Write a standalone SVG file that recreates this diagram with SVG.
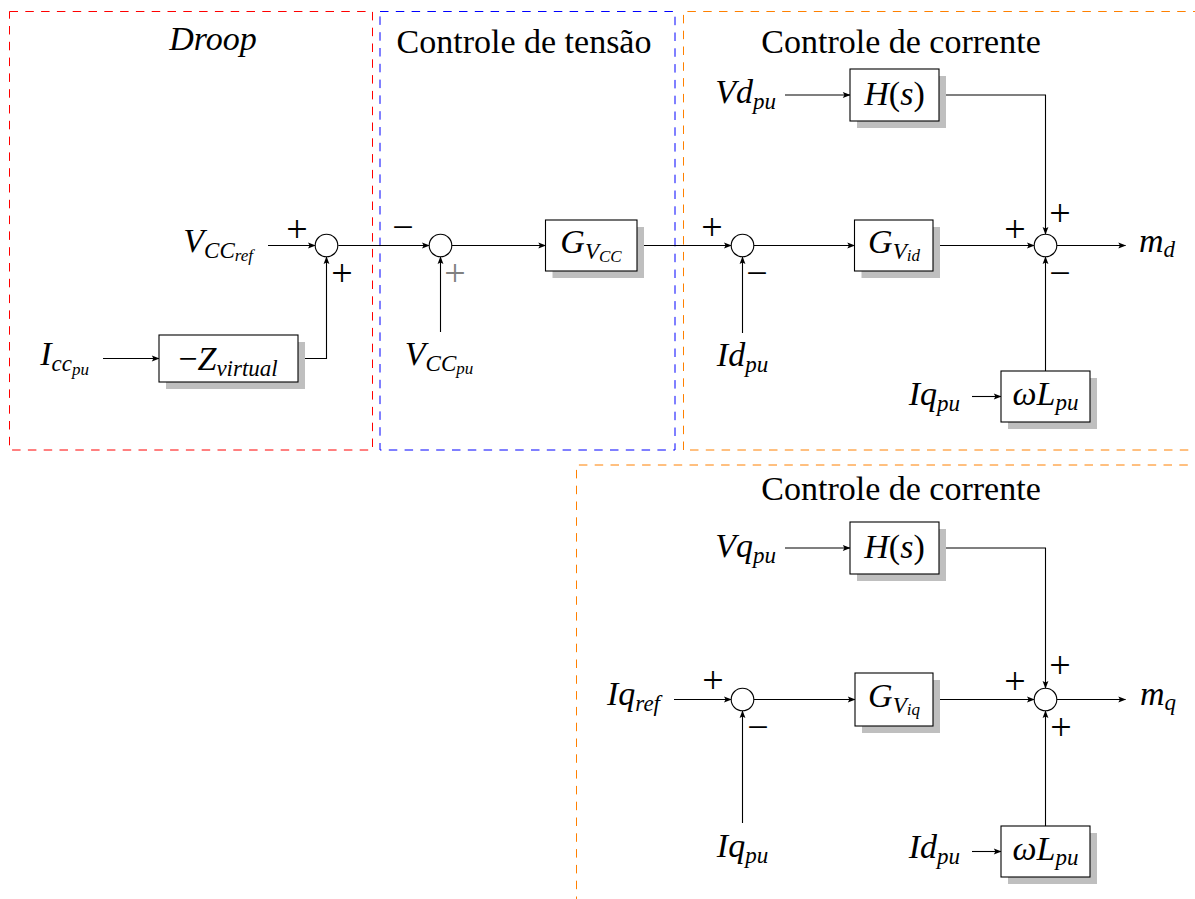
<svg xmlns="http://www.w3.org/2000/svg" width="1195" height="899" viewBox="0 0 1195 899">
  <style>
    .bg { fill: #ffffff; }
    .frame { fill: none; stroke-width: 1; stroke-dasharray: 8.5 7.3; }
    .red { stroke: #ff0000; }
    .blue { stroke: #0000ff; }
    .orange { stroke: #ff8000; }
    .wire { fill: none; stroke: #000; stroke-width: 1.1; }
    .arrow { marker-end: url(#tip); }
    .box { fill: #fff; stroke: #000; stroke-width: 1.1; }
    .shadow { fill: #bfbfbf; stroke: none; }
    .sum { fill: #fff; stroke: #000; stroke-width: 1.1; }
    text { fill: #000; }
    .title { font-size: 34px; }
    .m { font-style: italic; font-size: 34px; }
    .up { font-style: normal; }
    .s1 { font-size: 23px; }
    .s2 { font-size: 17px; }
    .sign { font-size: 38px; text-anchor: middle; }
    .mid { text-anchor: middle; }
    .end { text-anchor: end; }
  </style>
  <defs>
    <marker id="tip" markerUnits="userSpaceOnUse" viewBox="-9 -4 10 8" markerWidth="10" markerHeight="8" refX="0" refY="0" orient="auto">
      <path d="M0.6,0 L-7.2,-2.9 L-5.6,0 L-7.2,2.9 Z" fill="#000"/>
    </marker>
  </defs>

  <rect class="bg" x="0" y="0" width="1195" height="899"/>

  <!-- dashed section frames -->
  <g id="frames">
    <rect class="frame red" x="9.5" y="11.5" width="363" height="438.5"/>
    <rect class="frame blue" x="380" y="11.5" width="295" height="438.5"/>
    <path class="frame orange" d="M683.5,450 V11.5 H1200 M690,450 H1200"/>
    <path class="frame orange" d="M576.5,905 V465 H1200"/>
  </g>

  <g font-family="Liberation Serif, DejaVu Serif, serif">
  <!-- section titles -->
  <g id="titles">
    <text class="m mid" x="213" y="50">Droop</text>
    <text class="title mid" x="524" y="53">Controle de tensão</text>
    <text class="title mid" x="901" y="53">Controle de corrente</text>
    <text class="title mid" x="901" y="500">Controle de corrente</text>
  </g>

  <!-- connectors -->
  <g id="connectors">
    <!-- droop -->
    <path class="wire arrow" d="M268,245.5 H315.2"/>
    <path class="wire arrow" d="M103,358.5 H159"/>
    <path class="wire arrow" d="M298,358.5 H326.5 V256.8"/>
    <path class="wire arrow" d="M338.3,245.5 H429.2"/>
    <!-- voltage loop -->
    <path class="wire arrow" d="M440.5,332 V256.8"/>
    <path class="wire arrow" d="M451.8,245.5 H545.5"/>
    <path class="wire arrow" d="M637,245.5 H731.2"/>
    <!-- d-axis current loop -->
    <path class="wire arrow" d="M742.5,333 V256.8"/>
    <path class="wire arrow" d="M753.8,245.5 H854.5"/>
    <path class="wire arrow" d="M933,245.5 H1034.2"/>
    <path class="wire arrow" d="M1056.8,245.5 H1125.5"/>
    <path class="wire arrow" d="M785,95 H850"/>
    <path class="wire arrow" d="M939,95 H1045.5 V234.2"/>
    <path class="wire arrow" d="M972,396.5 H1001"/>
    <path class="wire arrow" d="M1045.5,371 V256.8"/>
    <!-- q-axis current loop -->
    <path class="wire arrow" d="M674,699.5 H731.2"/>
    <path class="wire arrow" d="M742.5,823 V710.8"/>
    <path class="wire arrow" d="M753.8,699.5 H855"/>
    <path class="wire arrow" d="M933,699.5 H1034.2"/>
    <path class="wire arrow" d="M1056.8,699.5 H1125.5"/>
    <path class="wire arrow" d="M785,548 H850"/>
    <path class="wire arrow" d="M939,548 H1045.5 V688.2"/>
    <path class="wire arrow" d="M972,851.5 H1001"/>
    <path class="wire arrow" d="M1045.5,826 V710.8"/>
  </g>

  <!-- droop section -->
  <g id="vccref">
    <text class="m end" x="253" y="252">V<tspan class="s1" dy="6">CC</tspan><tspan class="s2" dy="3">ref</tspan></text>
  </g>
  <g id="iccpu">
    <text class="m end" x="89" y="365">I<tspan class="s1" dy="6">cc</tspan><tspan class="s2" dy="4">pu</tspan></text>
  </g>
  <g id="zvirtual">
    <rect class="shadow" x="166" y="342" width="139" height="47"/>
    <rect class="box" x="159" y="335" width="139" height="47"/>
    <text class="m mid" x="228" y="370"><tspan class="up">−</tspan>Z<tspan class="s1" dy="6">virtual</tspan></text>
  </g>
  <g id="sum1">
    <circle class="sum" cx="326.5" cy="245.5" r="11.3"/>
    <text class="sign" x="297" y="241.5">+</text>
    <text class="sign" x="342" y="285.5">+</text>
  </g>

  <!-- voltage control section -->
  <g id="sum2">
    <circle class="sum" cx="440.5" cy="245.5" r="11.3"/>
    <text class="sign" x="403" y="239.5">−</text>
    <text class="sign" x="455" y="285.5" style="fill:#808080">+</text>
  </g>
  <g id="vccpu">
    <text class="m mid" x="439" y="365">V<tspan class="s1" dy="6">CC</tspan><tspan class="s2" dy="3">pu</tspan></text>
  </g>
  <g id="gvcc">
    <rect class="shadow" x="552.5" y="227" width="91.5" height="51"/>
    <rect class="box" x="545.5" y="220" width="91.5" height="51"/>
    <text class="m mid" x="591" y="253">G<tspan class="s1" dy="6">V</tspan><tspan class="s2" dy="3">CC</tspan></text>
  </g>

  <!-- d-axis current control -->
  <g id="sum3">
    <circle class="sum" cx="742.5" cy="245.5" r="11.3"/>
    <text class="sign" x="712" y="239.5">+</text>
    <text class="sign" x="757" y="285.5">−</text>
  </g>
  <g id="idpu1">
    <text class="m mid" x="742.5" y="366">Id<tspan class="s1" dy="6">pu</tspan></text>
  </g>
  <g id="gvid">
    <rect class="shadow" x="861.5" y="227" width="78.5" height="51"/>
    <rect class="box" x="854.5" y="220" width="78.5" height="51"/>
    <text class="m mid" x="894" y="253">G<tspan class="s1" dy="6">V</tspan><tspan class="s2" dy="2">id</tspan></text>
  </g>
  <g id="vdpu">
    <text class="m end" x="776" y="103">Vd<tspan class="s1" dy="6">pu</tspan></text>
  </g>
  <g id="hs1">
    <rect class="shadow" x="857" y="76" width="89" height="52"/>
    <rect class="box" x="850" y="69" width="89" height="52"/>
    <text class="m mid" x="894.5" y="105">H<tspan class="up">(</tspan>s<tspan class="up">)</tspan></text>
  </g>
  <g id="sum4">
    <circle class="sum" cx="1045.5" cy="245.5" r="11.3"/>
    <text class="sign" x="1015" y="241.5">+</text>
    <text class="sign" x="1060" y="225.5">+</text>
    <text class="sign" x="1060" y="285.5">−</text>
  </g>
  <g id="md">
    <text class="m" x="1139" y="252">m<tspan class="s1" dy="5">d</tspan></text>
  </g>
  <g id="iqpu1">
    <text class="m end" x="960" y="405">Iq<tspan class="s1" dy="6">pu</tspan></text>
  </g>
  <g id="wl1">
    <rect class="shadow" x="1008" y="378" width="89" height="51"/>
    <rect class="box" x="1001" y="371" width="89" height="51"/>
    <text class="m mid" x="1045.5" y="405">ωL<tspan class="s1" dy="5">pu</tspan></text>
  </g>

  <!-- q-axis current control -->
  <g id="iqref">
    <text class="m end" x="660" y="705">Iq<tspan class="s1" dy="6">ref</tspan></text>
  </g>
  <g id="sum5">
    <circle class="sum" cx="742.5" cy="699.5" r="11.3"/>
    <text class="sign" x="713" y="693">+</text>
    <text class="sign" x="758" y="739.5">−</text>
  </g>
  <g id="iqpu2">
    <text class="m mid" x="742.5" y="857">Iq<tspan class="s1" dy="6">pu</tspan></text>
  </g>
  <g id="gviq">
    <rect class="shadow" x="862" y="680" width="78" height="53"/>
    <rect class="box" x="855" y="673" width="78" height="53"/>
    <text class="m mid" x="894" y="707">G<tspan class="s1" dy="6">V</tspan><tspan class="s2" dy="2">iq</tspan></text>
  </g>
  <g id="vqpu">
    <text class="m end" x="776" y="557">Vq<tspan class="s1" dy="6">pu</tspan></text>
  </g>
  <g id="hs2">
    <rect class="shadow" x="857" y="529" width="89" height="52"/>
    <rect class="box" x="850" y="522" width="89" height="52"/>
    <text class="m mid" x="894.5" y="558">H<tspan class="up">(</tspan>s<tspan class="up">)</tspan></text>
  </g>
  <g id="sum6">
    <circle class="sum" cx="1045.5" cy="699.5" r="11.3"/>
    <text class="sign" x="1015" y="693.5">+</text>
    <text class="sign" x="1060" y="677.5">+</text>
    <text class="sign" x="1061" y="739.5">+</text>
  </g>
  <g id="mq">
    <text class="m" x="1140" y="705">m<tspan class="s1" dy="5">q</tspan></text>
  </g>
  <g id="idpu2">
    <text class="m end" x="960" y="858">Id<tspan class="s1" dy="6">pu</tspan></text>
  </g>
  <g id="wl2">
    <rect class="shadow" x="1008" y="833" width="89" height="51"/>
    <rect class="box" x="1001" y="826" width="89" height="51"/>
    <text class="m mid" x="1045.5" y="860">ωL<tspan class="s1" dy="5">pu</tspan></text>
  </g>
  </g>
</svg>
